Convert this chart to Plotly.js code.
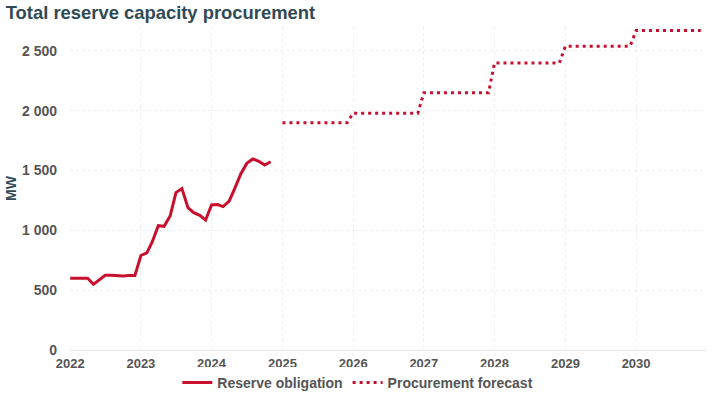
<!DOCTYPE html>
<html>
<head>
<meta charset="utf-8">
<script src="https://cdn.plot.ly/plotly-3.0.1.min.js"></script>
<style>html,body{margin:0;padding:0;background:#fff;}#chart{width:720px;height:399px;}</style>
</head>
<body>
<div id="chart"></div>
<script>
const obligationDates = [
  "2022-01-01","2022-02-01","2022-03-01","2022-04-01","2022-05-01","2022-06-01",
  "2022-07-01","2022-08-01","2022-09-01","2022-10-01","2022-11-01","2022-12-01",
  "2023-01-01","2023-02-01","2023-03-01","2023-04-01","2023-05-01","2023-06-01",
  "2023-07-01","2023-08-01","2023-09-01","2023-10-01","2023-11-01","2023-12-01",
  "2024-01-01","2024-02-01","2024-03-01","2024-04-01","2024-05-01","2024-06-01",
  "2024-07-01","2024-08-01","2024-09-01","2024-10-01","2024-11-01"
];
const obligationMW = [
  599, 600, 602, 600, 549, 588, 625, 625, 619, 619, 622, 622,
  790, 812, 905, 1039, 1034, 1120, 1316, 1350, 1190, 1148, 1126, 1087,
  1213, 1216, 1199, 1244, 1356, 1476, 1560, 1597, 1577, 1546, 1574
];
const forecastDates = [
  "2025-01-01","2025-12-01","2026-01-01","2026-12-01","2027-01-01","2027-12-01",
  "2028-01-01","2028-12-01","2029-01-01","2029-12-01","2030-01-01","2030-12-01"
];
const forecastMW = [
  1900, 1900, 1980, 1980, 2150, 2150,
  2400, 2400, 2540, 2540, 2670, 2670
];
const seriesNames = ["Reserve obligation", "Procurement forecast"];
const yTicks = [0, 500, 1000, 1500, 2000, 2500];
const xTicks = ["2022-01-01","2023-01-01","2024-01-01","2025-01-01","2026-01-01","2027-01-01","2028-01-01","2029-01-01","2030-01-01"];
const xTickText = ["2022","2023","2024","2025","2026","2027","2028","2029","2030"];

const red = "#c8102e";
const traces = [
  {x: obligationDates, y: obligationMW, name: seriesNames[0], type: "scatter", mode: "lines",
   line: {color: red, width: 3}},
  {x: forecastDates, y: forecastMW, name: seriesNames[1], type: "scatter", mode: "lines",
   line: {color: red, width: 3, dash: "3px,4px"}}
];
const fam = "Liberation Sans, Arial, sans-serif";
const layout = {
  width: 720, height: 399,
  margin: {l: 70, r: 14, t: 27, b: 49},
  paper_bgcolor: "#ffffff", plot_bgcolor: "#ffffff",
  separators: ". ",
  title: {text: "<b>Total reserve capacity procurement</b>", x: 0.008, xanchor: "left", y: 0.985, yanchor: "top",
    font: {family: fam, size: 18.4, color: "#2f4a57"}},
  xaxis: {type: "date", range: ["2021-12-31", "2030-12-28"], tickvals: xTicks, ticktext: xTickText,
    showgrid: true, gridcolor: "#eeeeee", griddash: "dot", zeroline: false, showline: false, ticks: "",
    tickfont: {family: fam, size: 13, color: "#555555", weight: "bold"},
    ticklabelstandoff: 4, automargin: false},
  yaxis: {range: [0, 2700], tickvals: yTicks, separatethousands: true, showgrid: true, gridcolor: "#eeeeee", griddash: "dot",
    zeroline: true, zerolinecolor: "#e6e6e6", zerolinewidth: 1, ticks: "",
    tickfont: {family: fam, size: 14, color: "#555555", weight: "bold"}, ticklabelstandoff: 12, automargin: false,
    title: {text: "<b>MW</b>", standoff: 2, font: {family: fam, size: 14, color: "#2f4a57"}}},
  legend: {orientation: "h", xref: "container", x: 0.497, xanchor: "center", yref: "container", y: 0.0, yanchor: "bottom", itemwidth: 30,
    font: {family: fam, size: 14, color: "#555555", weight: "bold"},
    tracegroupgap: 0, itemclick: false},
  showlegend: true
};
Plotly.newPlot("chart", traces, layout, {displayModeBar: false, staticPlot: true});
</script>
</body>
</html>
